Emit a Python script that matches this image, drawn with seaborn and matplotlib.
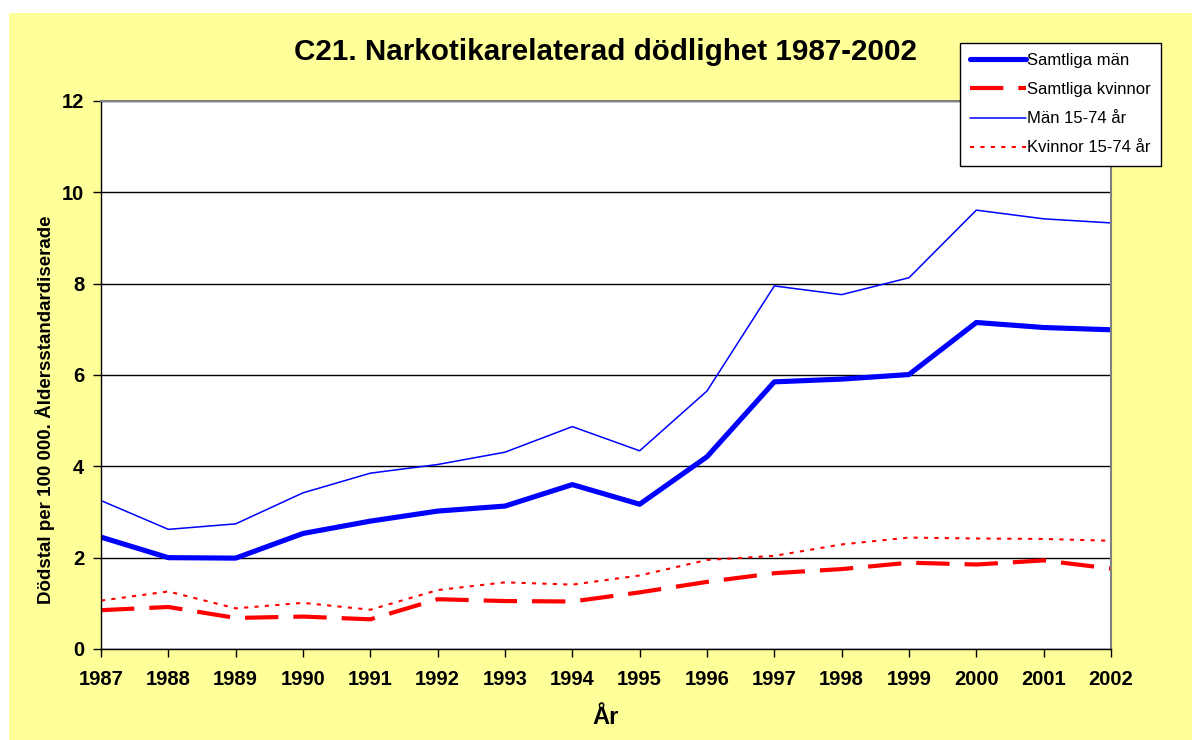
import matplotlib
matplotlib.use("Agg")
import matplotlib.pyplot as plt
import matplotlib.patches as mpatches
import seaborn as sns
import pandas as pd

# Data
years = list(range(1987, 2003))
samtliga_man = [2.45, 2.00, 1.99, 2.53, 2.80, 3.02, 3.13, 3.60, 3.17, 4.21,
                5.85, 5.91, 6.01, 7.15, 7.04, 6.99]
samtliga_kvinnor = [0.85, 0.92, 0.68, 0.71, 0.65, 1.09, 1.05, 1.04, 1.24, 1.47,
                    1.66, 1.75, 1.89, 1.85, 1.94, 1.76]
man_15_74 = [3.25, 2.62, 2.74, 3.42, 3.85, 4.04, 4.31, 4.87, 4.34, 5.65,
             7.95, 7.76, 8.13, 9.61, 9.42, 9.33]
kvinnor_15_74 = [1.06, 1.26, 0.89, 1.01, 0.86, 1.29, 1.46, 1.41, 1.61, 1.95,
                 2.04, 2.29, 2.44, 2.42, 2.41, 2.37]

df = pd.DataFrame({
    "year": years,
    "Samtliga män": samtliga_man,
    "Samtliga kvinnor": samtliga_kvinnor,
    "Män 15-74 år": man_15_74,
    "Kvinnor 15-74 år": kvinnor_15_74,
})

sns.set_style("white")
plt.rcParams["font.family"] = ["Liberation Sans", "DejaVu Sans"]
plt.rcParams["text.color"] = "black"
plt.rcParams["axes.labelcolor"] = "black"
plt.rcParams["xtick.color"] = "black"
plt.rcParams["ytick.color"] = "black"

fig = plt.figure(figsize=(11.92, 7.40), dpi=100)
fig.patch.set_facecolor("white")
# yellow chart area (white strip at top and left as in the original)
fig.patches.append(mpatches.Rectangle((9 / 1192, 0), 1, (740 - 13) / 740,
                                      transform=fig.transFigure,
                                      facecolor="#FFFF99", edgecolor="none",
                                      zorder=-10))

ax = fig.add_axes([101 / 1192, 91 / 740, 1010 / 1192, 548 / 740])
ax.set_facecolor("white")

styles = [
    ("Samtliga män", dict(color="#0000FF", linewidth=3.7, linestyle="-")),
    ("Samtliga kvinnor", dict(color="#FF0000", linewidth=3.0, dashes=(8, 3.6))),
    ("Män 15-74 år", dict(color="#0000FF", linewidth=1.1, linestyle="-")),
    ("Kvinnor 15-74 år", dict(color="#FF0000", linewidth=1.5, dashes=(2, 3))),
]
for name, kw in styles:
    sns.lineplot(data=df, x="year", y=name, ax=ax, label=name, **kw)

ax.set_xlim(1987, 2002)
ax.set_ylim(0, 12)
ax.set_xticks(years)
ax.set_yticks(range(0, 13, 2))
ax.yaxis.grid(True, color="black", linewidth=1.0)
ax.set_axisbelow(True)

for side in ["left", "bottom"]:
    ax.spines[side].set_color("black")
    ax.spines[side].set_linewidth(1.0)
for side in ["top", "right"]:
    ax.spines[side].set_visible(True)
    ax.spines[side].set_color("#808080")
    ax.spines[side].set_linewidth(1.5)

ax.tick_params(axis="both", direction="out", length=6, width=1, color="black",
               labelsize=14.5, left=True, bottom=True)
ax.tick_params(axis="x", pad=9)
ax.tick_params(axis="y", pad=6)
for lab in ax.get_xticklabels() + ax.get_yticklabels():
    lab.set_fontweight("bold")

ax.set_xlabel("År", fontsize=17, fontweight="bold", labelpad=12)
ax.set_ylabel("Dödstal per 100 000. Åldersstandardiserade", fontsize=13.5,
              fontweight="bold")
ax.yaxis.set_label_coords(-0.046, 0.436)
fig.text(606 / 1192, (740 - 52) / 740, "C21. Narkotikarelaterad dödlighet 1987-2002",
         ha="center", va="center", fontsize=21.3, fontweight="bold")

leg = ax.legend(loc="upper right", bbox_to_anchor=(1161 / 1192, (740 - 43) / 740),
                bbox_transform=fig.transFigure, frameon=True, fancybox=False,
                edgecolor="black", facecolor="white", framealpha=1,
                fontsize=12, handlelength=3.4, handletextpad=0.05,
                labelspacing=0.85, borderpad=0.6, borderaxespad=0)
leg.get_frame().set_linewidth(1.0)

fig.savefig("out.png", dpi=100)
